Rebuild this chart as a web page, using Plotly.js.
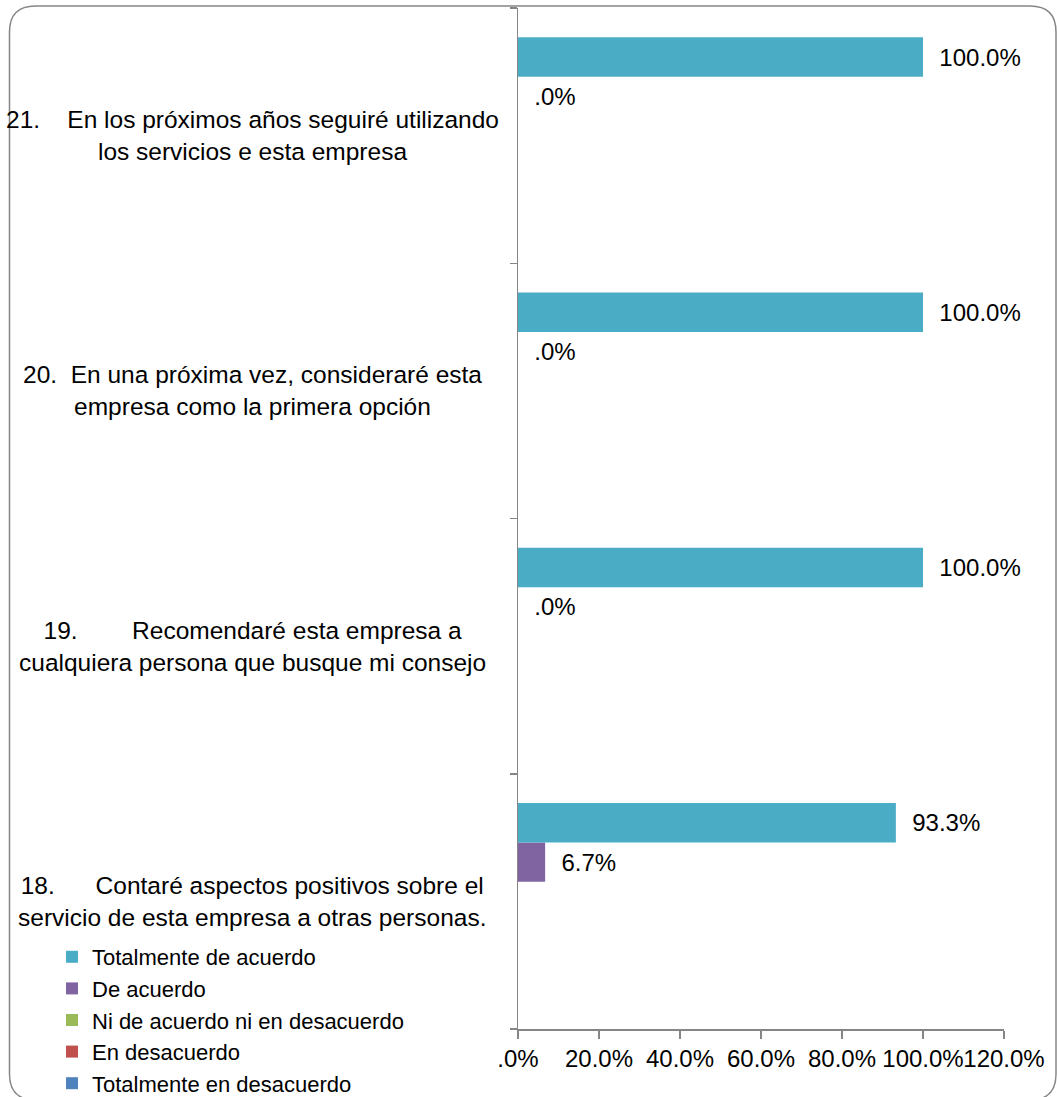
<!DOCTYPE html>
<html>
<head>
<meta charset="utf-8">
<script src="https://cdn.plot.ly/plotly-3.0.1.min.js"></script>
<style>
html,body{margin:0;padding:0;background:#fff;}
#chart{width:1057px;height:1097px;}
</style>
</head>
<body>
<div id="chart"></div>
<script>
// ---- data ----
const categories = ['18', '19', '20', '21'];
const categoryLabels = [
  '18.\u00a0\u00a0\u00a0\u00a0\u00a0\u00a0Contaré aspectos positivos sobre el<br>servicio de esta empresa a otras personas.',
  '19.\u00a0\u00a0\u00a0\u00a0\u00a0\u00a0\u00a0\u00a0Recomendaré esta empresa a<br>cualquiera persona que busque mi consejo',
  '20.\u00a0\u00a0En una próxima vez, consideraré esta<br>empresa como la primera opción',
  '21.\u00a0\u00a0\u00a0\u00a0En los próximos años seguiré utilizando<br>los servicios e esta empresa'
];
const seriesNames = ['Totalmente de acuerdo', 'De acuerdo', 'Ni de acuerdo ni en desacuerdo', 'En desacuerdo', 'Totalmente en desacuerdo'];
const seriesColors = ['#4BACC6', '#8064A2', '#9BBB59', '#C0504D', '#4F81BD'];
const totalmenteDeAcuerdo = [0.933, 1.0, 1.0, 1.0];
const deAcuerdo = [0.067, 0.0, 0.0, 0.0];
const niDeAcuerdo = [0, 0, 0, 0];
const enDesacuerdo = [0, 0, 0, 0];
const totalmenteEnDesacuerdo = [0, 0, 0, 0];
const seriesValues = [totalmenteDeAcuerdo, deAcuerdo, niDeAcuerdo, enDesacuerdo, totalmenteEnDesacuerdo];
const seriesShowLabels = [true, true, false, false, false];
const xTickValues = [0, 0.2, 0.4, 0.6, 0.8, 1.0, 1.2];

// ---- helpers ----
function fmtPct(v) {
  let s = (v * 100).toFixed(1) + '%';
  if (s.startsWith('0.')) s = s.slice(1);
  return s;
}

const FONT = 'Liberation Sans, Arial, sans-serif';
const W = 1057, H = 1097;
const M = {l: 518, r: 53, t: 8, b: 68};
const PW = W - M.l - M.r, PH = H - M.t - M.b;
function px2x(px) { return (px - M.l) / PW; }
function px2y(py) { return (H - M.b - py) / PH; }

// rounded chart-area border
function roundedRectPath(x0, y0, x1, y1, r) {
  const P = (x, y) => px2x(x).toFixed(5) + ',' + px2y(y).toFixed(5);
  return 'M' + P(x0 + r, y0) + ' L' + P(x1 - r, y0) + ' Q' + P(x1, y0) + ' ' + P(x1, y0 + r) +
         ' L' + P(x1, y1 - r) + ' Q' + P(x1, y1) + ' ' + P(x1 - r, y1) +
         ' L' + P(x0 + r, y1) + ' Q' + P(x0, y1) + ' ' + P(x0, y1 - r) +
         ' L' + P(x0, y0 + r) + ' Q' + P(x0, y0) + ' ' + P(x0 + r, y0) + ' Z';
}

// ---- traces (reverse so first series sits at top of each group) ----
const traces = [];
for (let i = seriesNames.length - 1; i >= 0; i--) {
  const vals = seriesValues[i];
  traces.push({
    type: 'bar',
    orientation: 'h',
    name: seriesNames[i],
    y: categories,
    x: vals,
    marker: {color: seriesColors[i], line: {width: 0}},
    text: seriesShowLabels[i] ? vals.map(v => '\u00a0\u00a0' + fmtPct(v)) : vals.map(() => ''),
    textposition: 'outside',
    textfont: {family: FONT, size: 24, color: '#000'},
    cliponaxis: false,
    constraintext: 'none',
    hoverinfo: 'name+x'
  });
}

// category labels, placed at each category's index on the category axis
const annotations = categories.map((c, i) => ({
  xref: 'paper', yref: 'y',
  x: px2x(252), y: categories.indexOf(c),
  xanchor: 'center', yanchor: 'middle',
  align: 'center',
  text: categoryLabels[i],
  showarrow: false,
  font: {family: FONT, size: 24.5, color: '#000'}
}));

const layout = {
  width: W, height: H,
  margin: Object.assign({autoexpand: false}, M),
  paper_bgcolor: '#fff',
  plot_bgcolor: '#fff',
  barmode: 'group',
  bargap: 0.23,
  bargroupgap: 0,
  font: {family: FONT, size: 24, color: '#000'},
  showlegend: true,
  legend: {
    xref: 'container', yref: 'container',
    x: 52 / W, xanchor: 'left',
    y: 1 - 936 / H, yanchor: 'top',
    traceorder: 'reversed',
    orientation: 'v',
    font: {family: FONT, size: 22, color: '#000'},
    bgcolor: 'rgba(0,0,0,0)',
    borderwidth: 0
  },
  xaxis: {
    range: [0, 1.2],
    tickvals: xTickValues,
    ticktext: xTickValues.map(fmtPct),
    tickangle: 0,
    ticks: 'outside', ticklen: 8, tickwidth: 1.5, tickcolor: '#868686',
    showline: true, linecolor: '#868686', linewidth: 1.5,
    showgrid: false, zeroline: false,
    tickfont: {family: FONT, size: 24, color: '#000'},
    automargin: false,
    fixedrange: true
  },
  yaxis: {
    type: 'category',
    categoryorder: 'array', categoryarray: categories,
    range: [-0.5, categories.length - 0.5],
    autorange: false,
    tickson: 'boundaries',
    ticks: 'outside', ticklen: 7, tickwidth: 1.5, tickcolor: '#868686',
    showline: true, linecolor: '#868686', linewidth: 1.5,
    showgrid: false, zeroline: false,
    showticklabels: false,
    automargin: false,
    fixedrange: true
  },
  annotations: annotations,
  shapes: [{
    type: 'path', xref: 'paper', yref: 'paper',
    path: roundedRectPath(9.5, 6, 1056, 1100, 26),
    line: {color: '#868686', width: 1.5},
    fillcolor: 'rgba(0,0,0,0)',
    layer: 'above'
  }]
};

Plotly.newPlot('chart', traces, layout, {displayModeBar: false, staticPlot: true});
</script>
</body>
</html>
